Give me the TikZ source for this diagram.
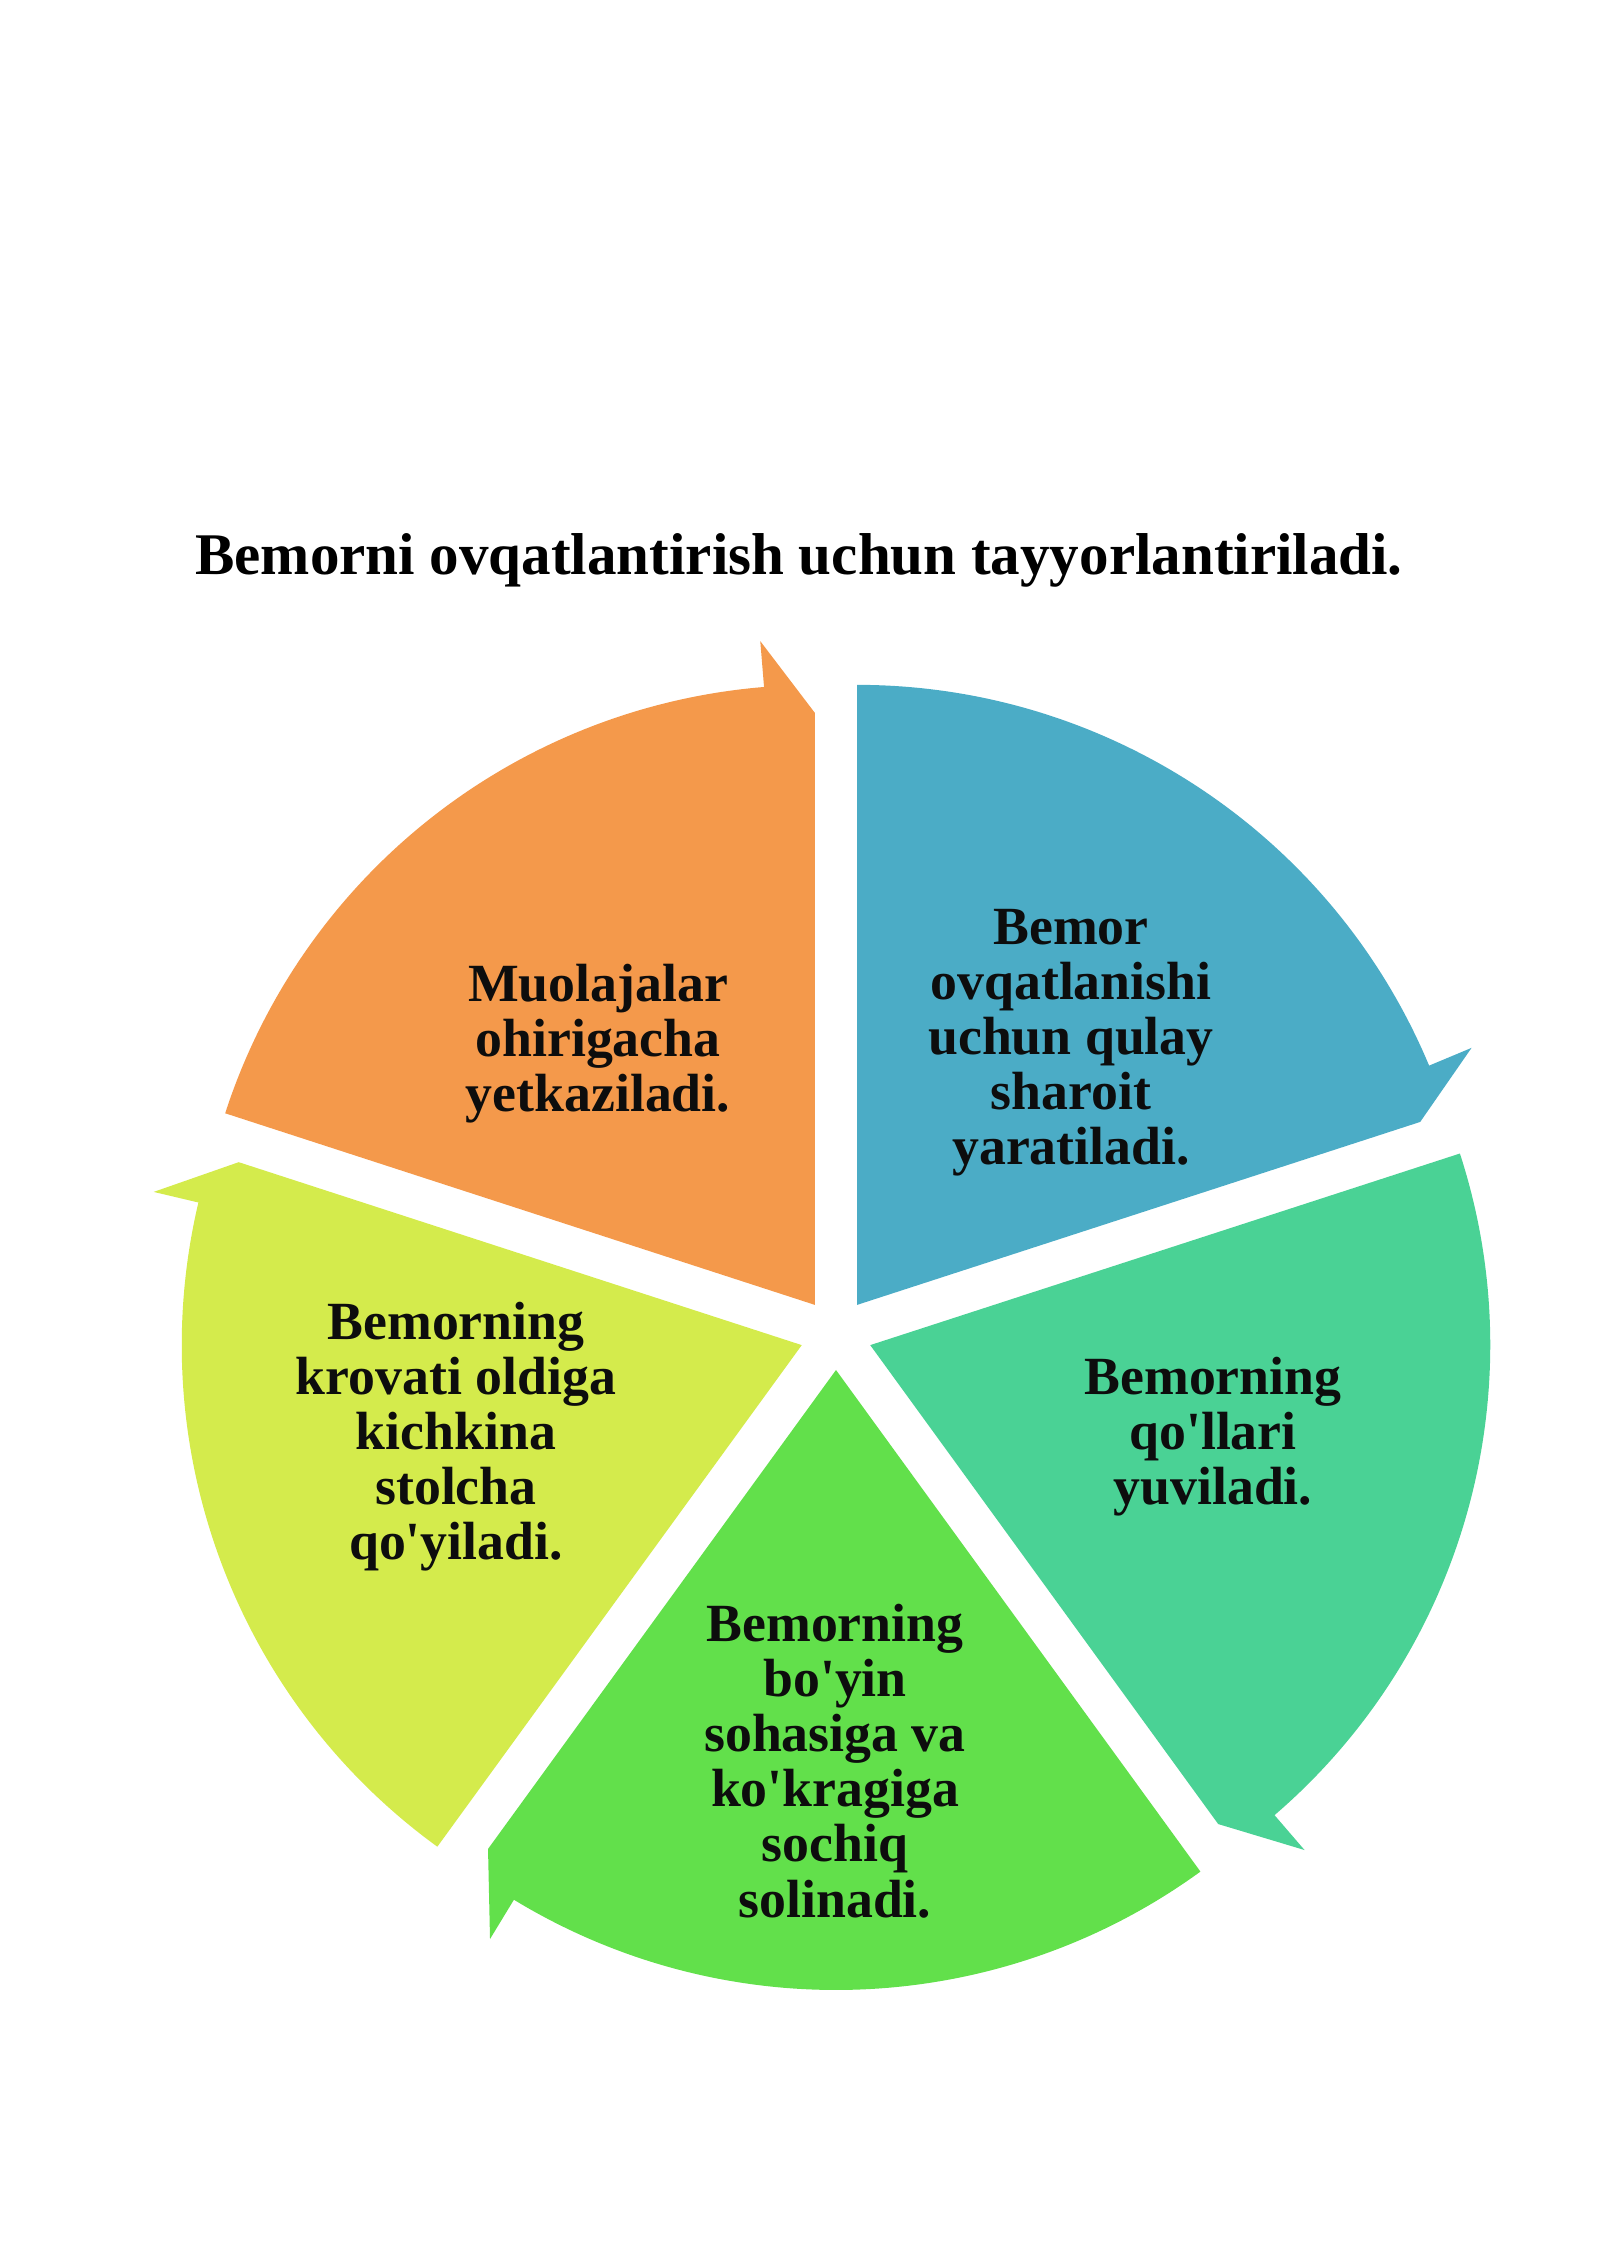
\documentclass[tikz,border=0pt]{standalone}
\usepackage{fontspec}
\setmainfont{Liberation Serif}[Ligatures=TeXOff]
\definecolor{segorange}{RGB}{244, 153, 75}
\definecolor{segblue}{RGB}{75, 172, 198}
\definecolor{segteal}{RGB}{74, 210, 149}
\definecolor{seggreen}{RGB}{98, 224, 75}
\definecolor{segyellow}{RGB}{212, 235, 76}

\begin{document}
\begin{tikzpicture}[x=0.1mm, y=0.1mm,
        steptext/.style={align=center, anchor=base, text=black!95, font=\fontsize{15.3}{15.7}\selectfont\bfseries}]
        % Page
        \useasboundingbox (-836,-928) rectangle (764,1334);

        % Title
        \node[anchor=base, font=\fontsize{16.8}{19}\selectfont\bfseries] (title) at (-37,759) {Bemorni ovqatlantirish uchun tayyorlantiriladi.};

        % Cycle segments, each pushed out from the centre
        \foreach \ang/\col in {126/segorange, 54/segblue, -18/segteal, -90/seggreen, 198/segyellow} {
            \begin{scope}[shift={(\ang:36)}]
                \fill[\col] (0,0) -- (\ang+36:620) arc[start angle=\ang+36, end angle=\ang-31.3, radius=620]
                    -- (\ang-31.3:666) -- (\ang-36:592) -- cycle;
            \end{scope}
        }

        % Labels (base = last line)
        \node[steptext] (finish) at (-238,222) {Muolajalar\\ohirigacha\\yetkaziladi.};
        \node[steptext] (comfort) at (235,169) {Bemor\\ovqatlanishi\\uchun qulay\\sharoit\\yaratiladi.};
        \node[steptext] (hands) at (377,-171) {Bemorning\\qo'llari\\yuviladi.};
        \node[steptext] (towel) at (-1,-583) {Bemorning\\bo'yin\\sohasiga va\\ko'kragiga\\sochiq\\solinadi.};
        \node[steptext] (table) at (-380,-226) {Bemorning\\krovati oldiga\\kichkina\\stolcha\\qo'yiladi.};
\end{tikzpicture}
\end{document}
